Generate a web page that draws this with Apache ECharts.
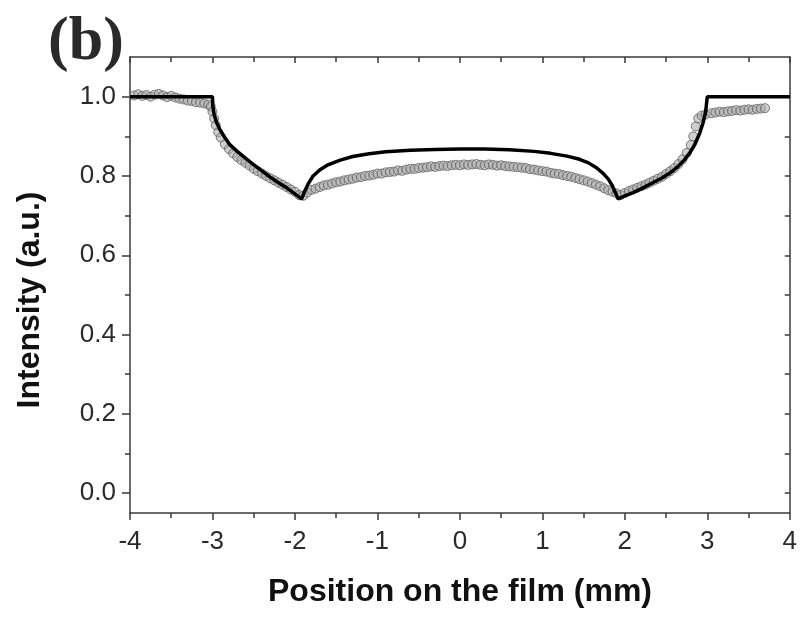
<!DOCTYPE html>
<html>
<head>
<meta charset="utf-8">
<script src="https://cdn.jsdelivr.net/npm/echarts@6/dist/echarts.min.js"></script>
<style>html,body{margin:0;padding:0;background:#fff;}#c{width:800px;height:617px;}</style>
</head>
<body>
<div id="c"></div>
<script>
// Measured data (open grey circles)
const measured = [
[-3.95,1.003],[-3.90,1.006],[-3.85,1.002],[-3.80,1.004],[-3.75,1.000],[-3.70,1.005],[-3.65,1.007],[-3.60,1.003],
[-3.55,0.999],[-3.50,1.002],[-3.45,0.998],[-3.40,0.995],[-3.35,0.993],[-3.30,0.990],[-3.25,0.989],[-3.20,0.986],
[-3.15,0.985],[-3.10,0.983],[-3.05,0.980],[-3.02,0.975],[-3.00,0.962],[-2.98,0.945],[-2.96,0.928],[-2.93,0.910],
[-2.90,0.897],[-2.85,0.880],[-2.80,0.868],[-2.75,0.857],[-2.70,0.848],[-2.65,0.840],[-2.60,0.833],[-2.55,0.826],
[-2.50,0.818],[-2.45,0.812],[-2.40,0.806],[-2.35,0.800],[-2.30,0.794],[-2.25,0.789],[-2.20,0.783],[-2.15,0.778],
[-2.10,0.772],[-2.05,0.766],[-2.00,0.760],[-1.95,0.752],[-1.90,0.750],[-1.85,0.758],[-1.80,0.765],[-1.75,0.768],
[-1.70,0.772],[-1.65,0.776],[-1.60,0.778],[-1.55,0.781],[-1.50,0.784],[-1.45,0.786],[-1.40,0.789],[-1.35,0.791],
[-1.30,0.793],[-1.25,0.796],[-1.20,0.797],[-1.15,0.800],[-1.10,0.801],[-1.05,0.803],[-1.00,0.806],[-0.95,0.806],
[-0.90,0.809],[-0.85,0.810],[-0.80,0.811],[-0.75,0.814],[-0.70,0.813],[-0.65,0.816],[-0.60,0.818],[-0.55,0.818],
[-0.50,0.820],[-0.45,0.821],[-0.40,0.822],[-0.35,0.824],[-0.30,0.823],[-0.25,0.825],[-0.20,0.826],[-0.15,0.825],
[-0.10,0.827],[-0.05,0.828],[0.00,0.827],[0.05,0.829],[0.10,0.828],[0.15,0.829],[0.20,0.830],[0.25,0.828],
[0.30,0.827],[0.35,0.829],[0.40,0.828],[0.45,0.826],[0.50,0.827],[0.55,0.825],[0.60,0.824],[0.65,0.823],
[0.70,0.822],[0.75,0.821],[0.80,0.820],[0.85,0.817],[0.90,0.816],[0.95,0.814],[1.00,0.812],[1.05,0.811],
[1.10,0.808],[1.15,0.806],[1.20,0.805],[1.25,0.802],[1.30,0.800],[1.35,0.798],[1.40,0.795],[1.45,0.792],
[1.50,0.789],[1.55,0.786],[1.60,0.782],[1.65,0.778],[1.70,0.774],[1.75,0.769],[1.80,0.764],[1.85,0.760],
[1.90,0.756],[1.95,0.752],[2.00,0.757],[2.05,0.762],[2.10,0.766],[2.15,0.770],[2.20,0.774],[2.25,0.778],
[2.30,0.783],[2.35,0.788],[2.40,0.793],[2.45,0.798],[2.50,0.805],[2.55,0.812],[2.60,0.820],[2.65,0.830],
[2.70,0.842],[2.75,0.858],[2.80,0.878],[2.83,0.900],[2.86,0.925],[2.89,0.945],[2.93,0.952],[2.98,0.955],
[3.05,0.958],[3.10,0.960],[3.15,0.962],[3.20,0.961],[3.25,0.963],[3.30,0.964],[3.35,0.966],[3.40,0.965],
[3.45,0.967],[3.50,0.968],[3.55,0.967],[3.60,0.969],[3.65,0.970],[3.70,0.971]
];

// Fitted curve (thick black line)
const fitted = [
[-4.00,1.000],[-3.00,1.000],[-2.995,0.975],[-2.98,0.955],[-2.95,0.935],[-2.91,0.917],[-2.85,0.897],[-2.79,0.879],
[-2.70,0.862],[-2.60,0.845],[-2.51,0.830],[-2.40,0.813],[-2.30,0.797],[-2.20,0.783],[-2.10,0.770],[-2.00,0.755],
[-1.92,0.742],[-1.88,0.762],[-1.84,0.780],[-1.78,0.800],[-1.70,0.815],[-1.60,0.828],[-1.45,0.840],[-1.30,0.849],
[-1.10,0.856],[-0.90,0.861],[-0.60,0.865],[-0.30,0.867],[0.00,0.868],[0.30,0.868],[0.60,0.866],[0.90,0.862],
[1.10,0.857],[1.30,0.850],[1.45,0.842],[1.56,0.833],[1.66,0.820],[1.74,0.806],[1.80,0.792],[1.85,0.775],
[1.88,0.760],[1.92,0.742],[2.00,0.750],[2.10,0.758],[2.22,0.770],[2.35,0.784],[2.45,0.795],[2.55,0.808],
[2.65,0.825],[2.72,0.840],[2.79,0.859],[2.85,0.880],[2.91,0.909],[2.95,0.935],[2.98,0.962],[3.00,1.000],[4.00,1.000]
];

const yMajorTicks = [0.0, 0.2, 0.4, 0.6, 0.8, 1.0];
const yMinorTicks = [0.1, 0.3, 0.5, 0.7, 0.9];
const yAllTicks = [0.0, 0.1, 0.2, 0.3, 0.4, 0.5, 0.6, 0.7, 0.8, 0.9, 1.0];

const xTitle = 'Position on the film (mm)';
const yTitle = 'Intensity (a.u.)';
const panelLabel = '(b)';

const chart = echarts.init(document.getElementById('c'), null, {renderer: 'canvas'});
const lineCol = '#3a3a3a';
const FONT = '"Liberation Sans", Arial, sans-serif';
const yBase = {type: 'value', min: -0.05, max: 1.1, splitLine: {show: false}};
chart.setOption({
  animation: false,
  backgroundColor: '#fff',
  grid: {left: 130, right: 10, top: 57, bottom: 104},
  xAxis: [
    {type: 'value', min: -4, max: 4, interval: 1, position: 'bottom',
     axisLine: {show: true, onZero: false, lineStyle: {color: lineCol, width: 1.5}},
     axisTick: {show: true, inside: false, length: 7, lineStyle: {color: lineCol, width: 1.5}},
     minorTick: {show: true, splitNumber: 2, length: 5, lineStyle: {color: lineCol, width: 1.5}},
     axisLabel: {fontSize: 26, margin: 16, color: '#2a2a2a', fontFamily: FONT},
     splitLine: {show: false}},
    {type: 'value', min: -4, max: 4, interval: 1, position: 'top',
     axisLine: {show: true, onZero: false, lineStyle: {color: lineCol, width: 1.5}},
     axisTick: {show: true, inside: true, length: 6, lineStyle: {color: lineCol, width: 1.5}},
     minorTick: {show: true, splitNumber: 2, length: 5, lineStyle: {color: lineCol, width: 1.5}},
     axisLabel: {show: false}, splitLine: {show: false}}
  ],
  yAxis: [
    Object.assign({}, yBase, {position: 'left',
     axisLine: {show: true, onZero: false, lineStyle: {color: lineCol, width: 1.5}},
     axisTick: {show: true, inside: false, length: 8, customValues: yMajorTicks, lineStyle: {color: lineCol, width: 1.5}},
     axisLabel: {show: true, customValues: yMajorTicks, fontSize: 26, margin: 14, color: '#2a2a2a', fontFamily: FONT,
                 formatter: v => v.toFixed(1)}}),
    Object.assign({}, yBase, {position: 'left',
     axisLine: {show: false, onZero: false},
     axisTick: {show: true, inside: false, length: 5, customValues: yMinorTicks, lineStyle: {color: lineCol, width: 1.5}},
     axisLabel: {show: false}}),
    Object.assign({}, yBase, {position: 'right',
     axisLine: {show: true, onZero: false, lineStyle: {color: lineCol, width: 1.5}},
     axisTick: {show: true, inside: true, length: 5, customValues: yAllTicks, lineStyle: {color: lineCol, width: 1.5}},
     axisLabel: {show: false}})
  ],
  series: [
    {type: 'scatter', data: measured, xAxisIndex: 0, yAxisIndex: 0, symbol: 'circle', symbolSize: 9,
     itemStyle: {color: 'rgba(170,170,170,0.7)', borderColor: '#5e5e5e', borderWidth: 1}, z: 2},
    {type: 'line', data: fitted, xAxisIndex: 0, yAxisIndex: 0, showSymbol: false, smooth: false,
     lineStyle: {color: '#000', width: 3.5}, z: 3}
  ],
  graphic: [
    {type: 'text', x: 30, y: 300, rotation: Math.PI / 2,
     style: {text: yTitle, font: 'bold 32px ' + FONT, fill: '#111', align: 'center', verticalAlign: 'middle'}},
    {type: 'text', x: 460, y: 592,
     style: {text: xTitle, font: 'bold 32px ' + FONT, fill: '#111', align: 'center', verticalAlign: 'middle'}},
    {type: 'text', x: 48, y: 43,
     style: {text: panelLabel, font: 'bold 62px "Liberation Serif", "Times New Roman", serif', fill: '#2a2a2a', align: 'left', verticalAlign: 'middle'}}
  ]
});
</script>
</body>
</html>
